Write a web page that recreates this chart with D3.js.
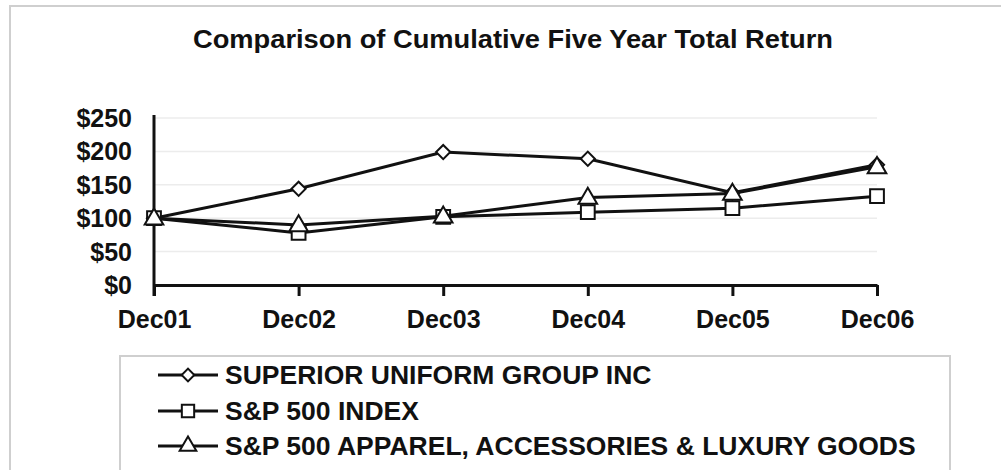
<!DOCTYPE html>
<html>
<head>
<meta charset="utf-8">
<script src="https://cdn.jsdelivr.net/npm/d3@7"></script>
<style>
body { margin: 0; background: #fff; }
text { font-family: "Liberation Sans", Arial, sans-serif; font-weight: bold; fill: #111; }
</style>
</head>
<body>
<div id="chart"></div>
<script>
var years = ["Dec01", "Dec02", "Dec03", "Dec04", "Dec05", "Dec06"];
var superior = [100, 144, 199, 189, 138, 180];
var sp500 = [100, 78, 102, 109, 115, 133];
var apparel = [100, 90, 103, 131, 137, 177];
var yTicks = [0, 50, 100, 150, 200, 250];
var seriesNames = ["SUPERIOR UNIFORM GROUP INC", "S&P 500 INDEX", "S&P 500 APPAREL, ACCESSORIES & LUXURY GOODS"];
var title = "Comparison of Cumulative Five Year Total Return";

var W = 1001, H = 470;
var svg = d3.select("#chart").append("svg")
  .attr("width", W).attr("height", H);

// outer frame
svg.append("rect")
  .attr("x", 10).attr("y", 6).attr("width", W + 10).attr("height", H + 10)
  .attr("fill", "none").attr("stroke", "#cfcfcf").attr("stroke-width", 2);

svg.append("text")
  .attr("x", 193).attr("y", 48)
  .attr("textLength", 640).attr("lengthAdjust", "spacingAndGlyphs")
  .style("font-size", "26px")
  .text(title);

var x = d3.scalePoint().domain(years).range([154, 877]);
var y = d3.scaleLinear().domain([0, 250]).range([285, 118]);

// gridlines
svg.append("g").selectAll("line")
  .data(yTicks.slice(1))
  .enter().append("line")
  .attr("x1", 154).attr("x2", 877)
  .attr("y1", function(d) { return y(d); })
  .attr("y2", function(d) { return y(d); })
  .attr("stroke", "#ececec").attr("stroke-width", 1.5);

// x axis
var xAxis = svg.append("g")
  .attr("transform", "translate(0," + y(0) + ")")
  .call(d3.axisBottom(x).tickSizeInner(11).tickSizeOuter(0).tickPadding(14));
xAxis.select(".domain").attr("stroke", "#111").attr("stroke-width", 3);
xAxis.selectAll(".tick line").attr("stroke", "#111").attr("stroke-width", 3);
xAxis.selectAll("text")
  .style("font-size", "25px").style("font-family", "Liberation Sans, Arial, sans-serif")
  .style("font-weight", "bold").attr("fill", "#111");

// y axis line
svg.append("line")
  .attr("x1", x("Dec01")).attr("x2", x("Dec01"))
  .attr("y1", 115).attr("y2", 296)
  .attr("stroke", "#111").attr("stroke-width", 3);

svg.append("g").selectAll("text")
  .data(yTicks)
  .enter().append("text")
  .attr("x", 132)
  .attr("y", function(d) { return y(d) + 9; })
  .attr("text-anchor", "end")
  .style("font-size", "25px")
  .text(function(d) { return "$" + d; });

var series = [superior, sp500, apparel];
// diamond = square rotated 45deg
var symbols = [d3.symbolSquare, d3.symbolSquare, d3.symbolTriangle];
var sizes = [100, 190, 150];
var rot = [45, 0, 0];
var line = d3.line()
  .x(function(d, i) { return x(years[i]); })
  .y(function(d) { return y(d); });

series.forEach(function(s, k) {
  var g = svg.append("g");
  g.append("path")
    .datum(s)
    .attr("d", line)
    .attr("fill", "none")
    .attr("stroke", "#111")
    .attr("stroke-width", 3);
  g.selectAll("path.pt")
    .data(s)
    .enter().append("path")
    .attr("class", "pt")
    .attr("d", d3.symbol().type(symbols[k]).size(sizes[k]))
    .attr("transform", function(d, i) {
      return "translate(" + x(years[i]) + "," + (y(d) + (k == 2 ? 1 : 0)) + ") rotate(" + rot[k] + ")";
    })
    .attr("fill", "#fff")
    .attr("stroke", "#111")
    .attr("stroke-width", 2);
});

// legend
var legend = svg.append("g");
legend.append("rect")
  .attr("x", 120).attr("y", 356).attr("width", 830).attr("height", 130)
  .attr("fill", "#fff").attr("stroke", "#cfcfcf").attr("stroke-width", 2);

var rowY = [375, 411, 446];
seriesNames.forEach(function(name, k) {
  legend.append("line")
    .attr("x1", 158).attr("x2", 218)
    .attr("y1", rowY[k]).attr("y2", rowY[k])
    .attr("stroke", "#111").attr("stroke-width", 3);
  legend.append("path")
    .attr("d", d3.symbol().type(symbols[k]).size(sizes[k] * 0.8))
    .attr("transform", "translate(188," + rowY[k] + ") rotate(" + rot[k] + ")")
    .attr("fill", "#fff").attr("stroke", "#111").attr("stroke-width", 2);
  legend.append("text")
    .attr("x", 225).attr("y", rowY[k] + 9)
    .style("font-size", "26.5px")
    .text(name);
});
</script>
</body>
</html>
